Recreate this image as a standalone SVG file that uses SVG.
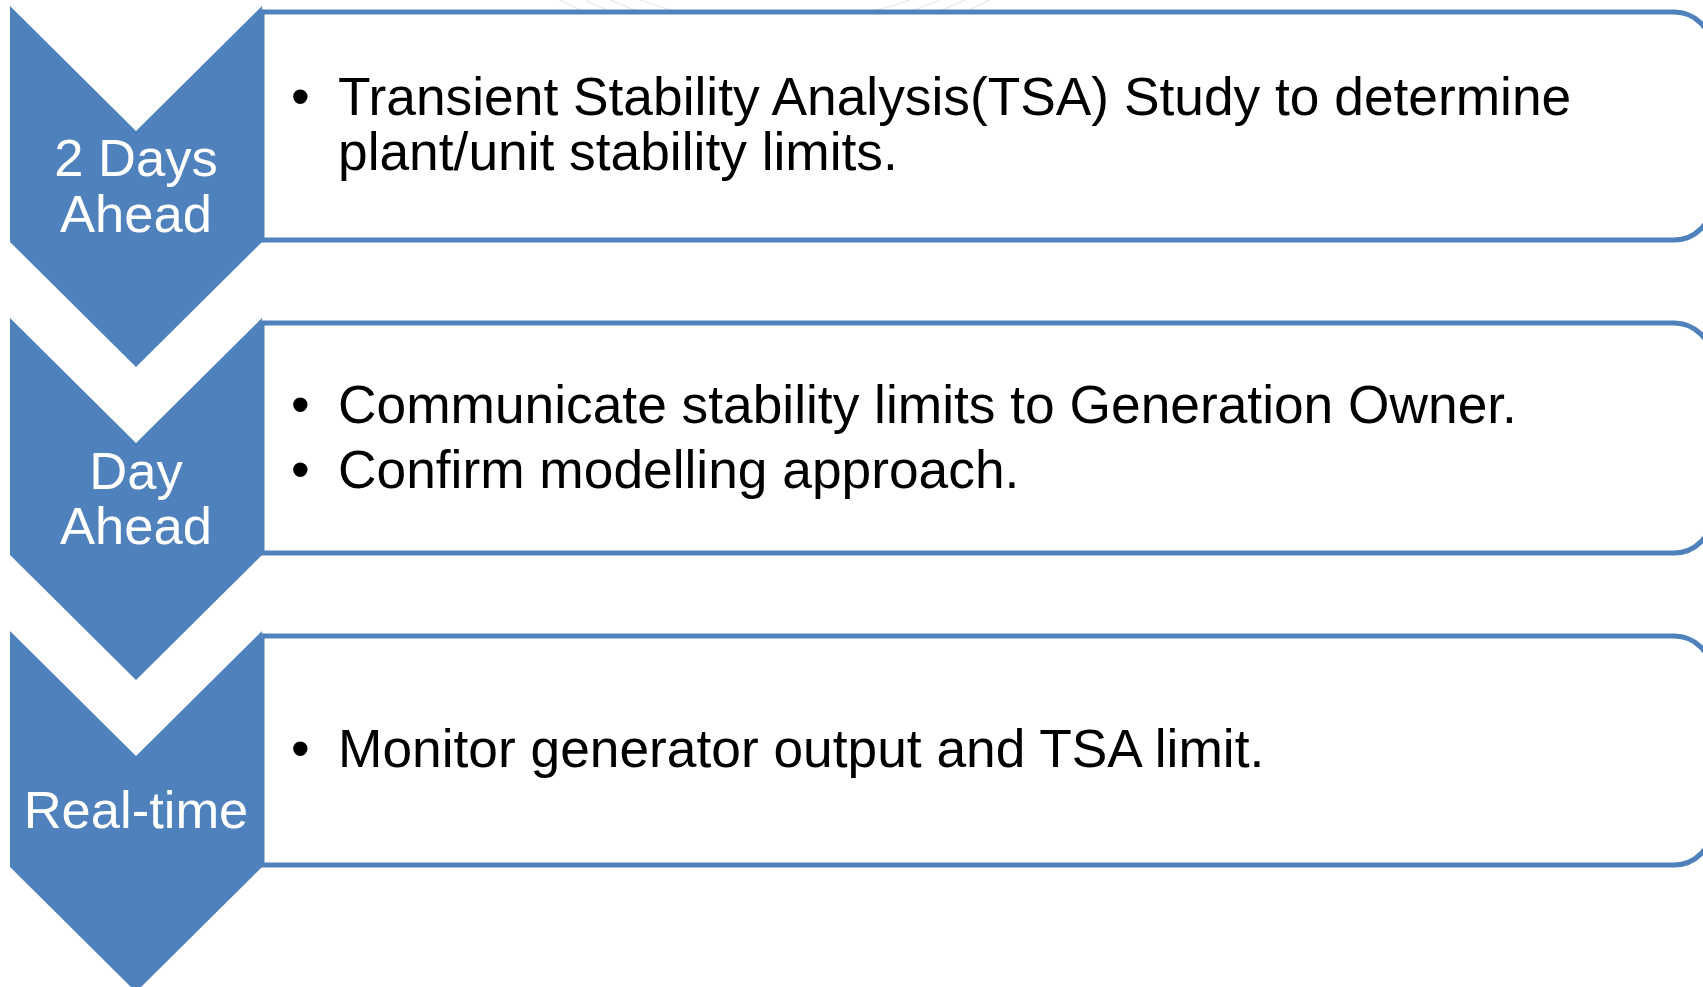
<svg xmlns="http://www.w3.org/2000/svg" width="1703" height="987" viewBox="0 0 1703 987">
<style>
.chev{fill:#4F81BD;stroke:none}
.box{fill:#FFFFFF;stroke:#4F81BD;stroke-width:5}
.lbl{font-family:"Liberation Sans",Arial,sans-serif;font-size:52.5px;fill:#FFFFFF;text-anchor:middle}
.body{font-family:"Liberation Sans",Arial,sans-serif;font-size:53.3px;fill:#000000}
.wm{fill:none;stroke:#EDEDED;stroke-width:1.5}
</style>
<rect x="0" y="0" width="1703" height="987" fill="#FFFFFF"/>
<g id="watermark">
<path class="wm" d="M560,0 Q770,110 990,0"/>
<path class="wm" d="M585,0 Q770,90 965,0"/>
<path class="wm" d="M610,0 Q770,70 940,0"/>
<path class="wm" d="M640,0 Q770,48 910,0"/>
</g>
<g id="step1">
<path class="chev" d="M10,6 L136,131 L262,6 L262,242 L136,367 L10,242 Z"/>
<text class="lbl" x="136" y="176">2 Days</text>
<text class="lbl" x="136" y="232">Ahead</text>
</g>
<g id="box1">
<path class="box" d="M262,12 H1674 A38,38 0 0 1 1712,50 V202 A38,38 0 0 1 1674,240 H262 Z"/>
<text class="body" x="291" y="115">•</text>
<text class="body" x="338" y="115">Transient Stability Analysis(TSA) Study to determine</text>
<text class="body" x="338" y="170">plant/unit stability limits.</text>
</g>
<g id="step2">
<path class="chev" d="M10,318 L136,443 L262,318 L262,555 L136,680 L10,555 Z"/>
<text class="lbl" x="136" y="489">Day</text>
<text class="lbl" x="136" y="544">Ahead</text>
</g>
<g id="box2">
<path class="box" d="M262,323 H1674 A38,38 0 0 1 1712,361 V515 A38,38 0 0 1 1674,553 H262 Z"/>
<text class="body" x="291" y="423">•</text>
<text class="body" x="338" y="423">Communicate stability limits to Generation Owner.</text>
<text class="body" x="291" y="488">•</text>
<text class="body" x="338" y="488">Confirm modelling approach.</text>
</g>
<g id="step3">
<path class="chev" d="M10,631 L136,756 L262,631 L262,867 L136,992 L10,867 Z"/>
<text class="lbl" x="136" y="828">Real-time</text>
</g>
<g id="box3">
<path class="box" d="M262,636 H1674 A38,38 0 0 1 1712,674 V827 A38,38 0 0 1 1674,865 H262 Z"/>
<text class="body" x="291" y="767">•</text>
<text class="body" x="338" y="767">Monitor generator output and TSA limit.</text>
</g>
<g id="connectors"></g>
</svg>
